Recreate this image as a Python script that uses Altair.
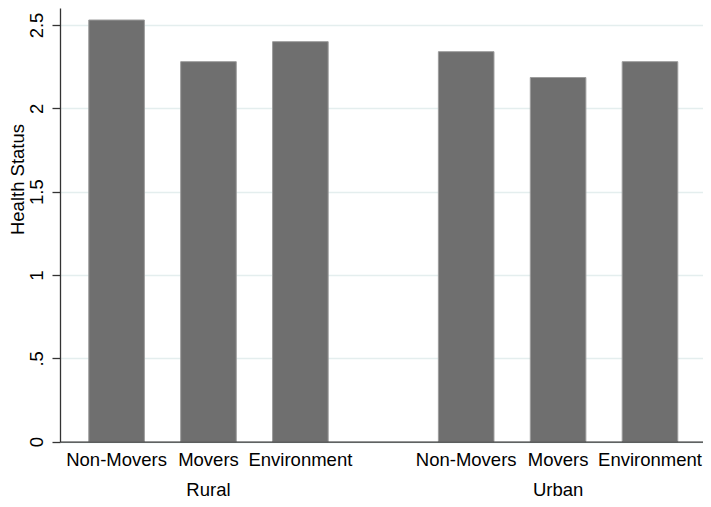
import altair as alt
import pandas as pd

# ---- data ----
regions = ["Rural", "Urban"]
groups = ["Non-Movers", "Movers", "Environment"]
rural_values = [2.53, 2.28, 2.40]
urban_values = [2.34, 2.185, 2.28]
y_ticks = [0, 0.5, 1, 1.5, 2, 2.5]

rows = []
for g, v in zip(groups, rural_values):
    rows.append({"region": "Rural", "group": g, "value": v})
for g, v in zip(groups, urban_values):
    rows.append({"region": "Urban", "group": g, "value": v})
df = pd.DataFrame(rows)

W = 643
H = 433.7
Y_MAX = 2.602
FONT = "Liberation Sans"
FS = 18.5
BAR = "#6f6f6f"
AXIS_C = "#333333"

x_enc = alt.X(
    "region:N",
    sort=regions,
    title=None,
    scale=alt.Scale(paddingInner=0.3152, paddingOuter=0.0772, align=0.533),
    axis=alt.Axis(
        ticks=False,
        labelAngle=0,
        labelFontSize=FS,
        labelFont=FONT,
        labelColor="#000000",
        labelPadding=53.3,
        labelBaseline="alphabetic",
        domainColor=AXIS_C,
        domainWidth=1.3,
        grid=False,
        zindex=1,
    ),
)
xoff_enc = alt.XOffset(
    "group:N", sort=groups, scale=alt.Scale(paddingInner=0.395, paddingOuter=0)
)
y_enc = alt.Y(
    "value:Q",
    title="Health Status",
    scale=alt.Scale(domain=[0, Y_MAX], nice=False, zero=True),
    axis=alt.Axis(
        values=y_ticks,
        labelAngle=270,
        labelAlign="center",
        labelBaseline="alphabetic",
        labelFontSize=FS,
        labelFont=FONT,
        labelColor="#000000",
        labelPadding=10,
        labelFlush=False,
        labelOverlap=False,
        labelExpr="datum.value == 0.5 ? '.5' : format(datum.value, '~g')",
        tickSize=8,
        tickColor=AXIS_C,
        tickWidth=1.3,
        domainColor=AXIS_C,
        domainWidth=1.3,
        grid=True,
        gridColor="#e4eeee",
        gridWidth=1.5,
        titleFont=FONT,
        titleFontSize=FS,
        titleFontWeight="normal",
        titleColor="#000000",
        titleAngle=270,
        titleAlign="center",
        titleBaseline="alphabetic",
        titleX=-37,
        titleY=171,
    ),
)

bars = alt.Chart(df).mark_bar(
    color=BAR, stroke="#9c9c9c", strokeWidth=1
).encode(x=x_enc, xOffset=xoff_enc, y=y_enc)

labels = alt.Chart(df).mark_text(
    baseline="alphabetic", align="center", fontSize=FS, font=FONT, color="#000000"
).encode(
    x=alt.X("region:N", sort=regions),
    xOffset=alt.XOffset("group:N", sort=groups),
    y=alt.value(457.5),
    text="group:N",
)

chart = (
    alt.layer(bars, labels)
    .properties(
        width=W,
        height=H,
        padding={"left": 52, "top": 0, "right": 0, "bottom": 57.3},
        autosize=alt.AutoSizeParams(type="none"),
        background="white",
    )
    .configure_view(strokeWidth=0)
)

chart.save("out.html", embed_options={"renderer": "svg", "actions": False})
